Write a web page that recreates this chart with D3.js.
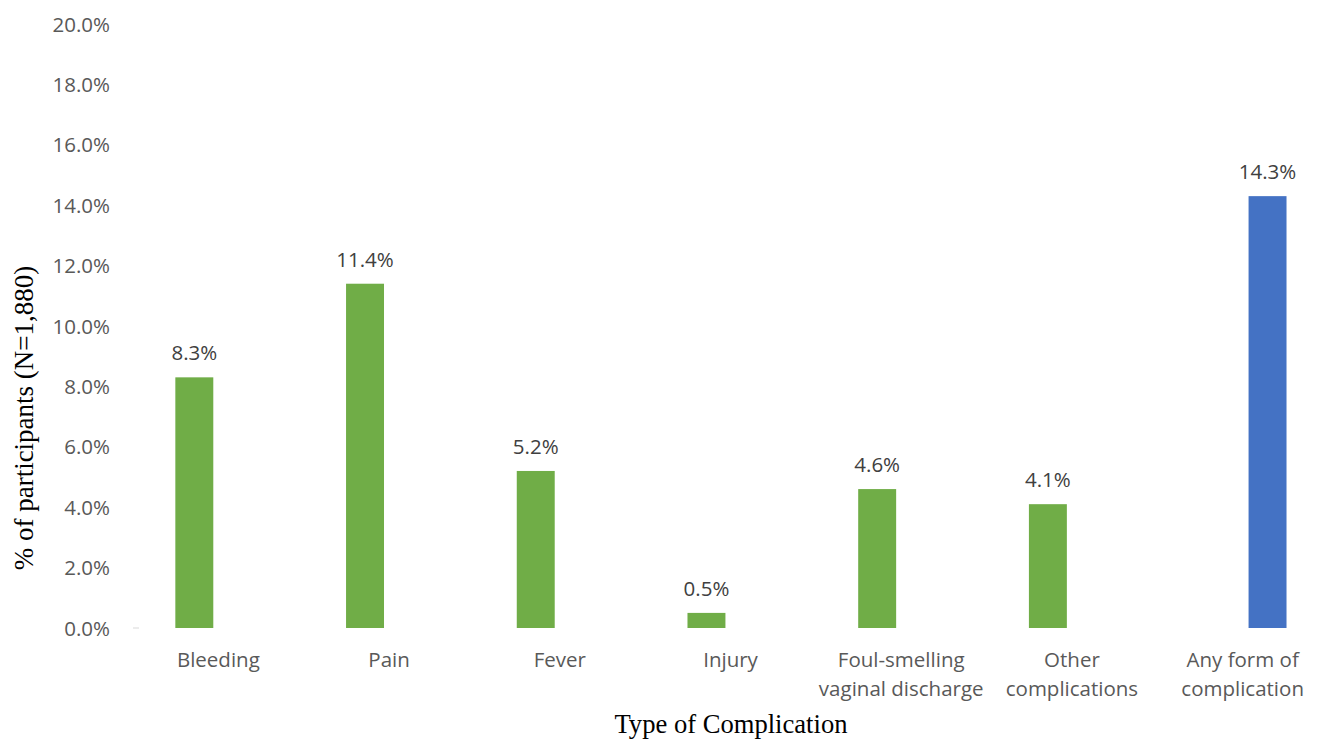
<!DOCTYPE html>
<html>
<head>
<meta charset="utf-8">
<script src="https://cdn.jsdelivr.net/npm/d3@7"></script>
<style>
  html, body { margin: 0; padding: 0; background: #fff; }
  svg { display: block; }
</style>
</head>
<body>
<svg id="chart" width="1320" height="740"></svg>
<script>
// Complication categories (two-line labels split on "|")
const categories = [
  "Bleeding", "Pain", "Fever", "Injury",
  "Foul-smelling|vaginal discharge", "Other|complications", "Any form of|complication"
];
// Individual complications (green) and the overall rate (blue), in percent
const specificValues = [8.3, 11.4, 5.2, 0.5, 4.6, 4.1, null];
const anyValues      = [null, null, null, null, null, null, 14.3];
const seriesNames = ["specific", "any"];
const yTicks = [0, 2, 4, 6, 8, 10, 12, 14, 16, 18, 20];

const svg = d3.select("#chart");
const plot = { left: 133, right: 1328, top: 24, bottom: 628 };
const textGray = "#595959";
const colors = { specific: "#70AD47", any: "#4472C4" };
const sansFont = "'Open Sans', sans-serif";
const serifFont = "'Liberation Serif', 'Times New Roman', serif";

const x = d3.scaleBand().domain(categories).range([plot.left, plot.right]).padding(0);
const bw = x.bandwidth();
const xSub = d3.scaleBand().domain(seriesNames)
  .range([bw * 0.248, bw * 0.757]).paddingInner(0.2245).paddingOuter(0);
const y = d3.scaleLinear().domain([0, 20]).range([plot.bottom, plot.top]);

// Y axis: labels only, no line
const yAxis = d3.axisLeft(y).tickValues(yTicks).tickSize(0).tickPadding(0)
  .tickFormat(d => d.toFixed(1) + "%");
const gy = svg.append("g").attr("transform", "translate(110,0)").call(yAxis);
gy.select(".domain").remove();
gy.selectAll("text")
  .attr("font-family", sansFont).attr("font-size", 20.5)
  .attr("fill", textGray).attr("dy", "0.35em");

// small baseline tick at the origin
svg.append("line")
  .attr("x1", plot.left).attr("x2", plot.left + 6)
  .attr("y1", y(0)).attr("y2", y(0))
  .attr("stroke", "#d9d9d9").attr("stroke-width", 1);

// Bars
const rows = categories.map((c, i) => ({ c, specific: specificValues[i], any: anyValues[i] }));
const groups = svg.append("g").selectAll("g").data(rows).join("g")
  .attr("transform", d => `translate(${x(d.c)},0)`);

const barData = d => seriesNames.filter(s => d[s] != null).map(s => ({ s, v: d[s] }));

groups.selectAll("rect").data(barData).join("rect")
  .attr("x", d => xSub(d.s))
  .attr("width", xSub.bandwidth())
  .attr("y", d => y(d.v))
  .attr("height", d => y(0) - y(d.v))
  .attr("fill", d => colors[d.s]);

// Value labels
groups.selectAll("text.val").data(barData).join("text")
  .attr("class", "val")
  .attr("x", d => xSub(d.s) + xSub.bandwidth() / 2)
  .attr("y", d => y(d.v) - 17)
  .attr("text-anchor", "middle")
  .attr("font-family", sansFont).attr("font-size", 20.5)
  .attr("fill", "#404040")
  .text(d => d.v.toFixed(1) + "%");

// Category labels
const xAxis = d3.axisBottom(x).tickSize(0).tickPadding(0).tickFormat("");
const gx = svg.append("g").attr("transform", `translate(0,${plot.bottom})`).call(xAxis);
gx.select(".domain").remove();
gx.selectAll(".tick").each(function(d) {
  const t = d3.select(this).append("text")
    .attr("text-anchor", "middle")
    .attr("font-family", sansFont).attr("font-size", 20.5)
    .attr("fill", textGray);
  d.split("|").forEach((line, k) => {
    t.append("tspan").attr("x", 0).attr("y", 39 + k * 29).text(line);
  });
});

// Axis titles
svg.append("text")
  .attr("x", 731).attr("y", 733)
  .attr("text-anchor", "middle")
  .attr("font-family", serifFont).attr("font-size", 26.6)
  .attr("fill", "#000")
  .text("Type of Complication");

svg.append("text")
  .attr("transform", "translate(33,418) rotate(-90)")
  .attr("text-anchor", "middle")
  .attr("font-family", serifFont).attr("font-size", 27)
  .attr("fill", "#000")
  .text("% of participants (N=1,880)");
</script>
</body>
</html>
